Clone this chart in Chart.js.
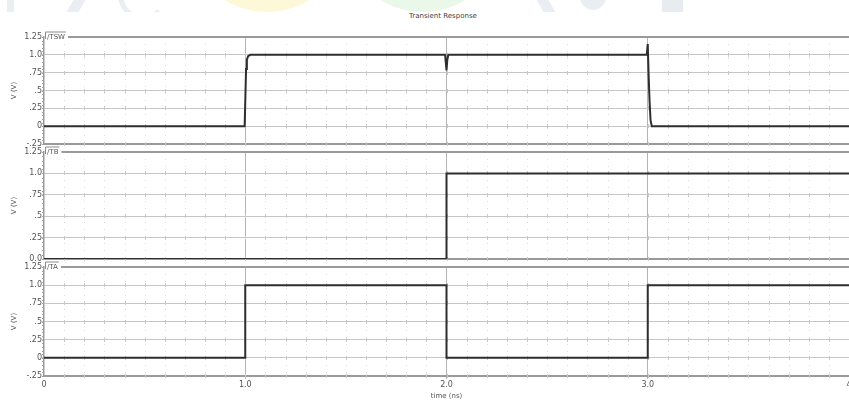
<!DOCTYPE html>
<html>
<head>
<meta charset="utf-8">
<script src="https://cdn.jsdelivr.net/npm/chart.js@4.4.1/dist/chart.umd.min.js"></script>
<style>
  html, body { margin: 0; padding: 0; background: #fff; width: 849px; height: 401px; overflow: hidden; position: relative; }
  canvas { position: absolute; left: 0; }
  #title { position: absolute; top: 12px; left: 0; width: 886px; text-align: center; font: 7px "DejaVu Sans", sans-serif; color: #444; }
  #mark { position: absolute; top: 0; left: 0; width: 849px; height: 12px; overflow: hidden; opacity: 0.8; }
  #mark div { position: absolute; }
</style>
</head>
<body>
<div id="mark">
  <div style="left:7px;top:0;width:7px;height:12px;background:#e8ecf0"></div>
  <div style="left:70px;top:-4px;width:12px;height:20px;background:#e6eaef;transform:skewX(-30deg)"></div>
  <div style="left:118px;top:-30px;width:40px;height:40px;border-radius:50%;border:5px solid #e6eaef;border-top-color:transparent;border-right-color:transparent"></div>
  <div style="left:186px;top:-150px;width:162px;height:162px;border-radius:50%;background:#fdf7cf"></div>
  <div style="left:343px;top:-148px;width:160px;height:160px;border-radius:50%;background:#e6f7e6"></div>
  <div style="left:540px;top:-4px;width:12px;height:20px;background:#e6eaef;transform:skewX(30deg)"></div>
  <div style="left:578px;top:-30px;width:30px;height:40px;border-radius:50%;background:#e6eaef"></div>
  <div style="left:662px;top:0;width:21px;height:12px;background:#e3e8ee"></div>
</div>
<div id="title">Transient Response</div>
<canvas id="pTSW" width="849" height="150" style="top:0px"></canvas>
<canvas id="pTB" width="849" height="118" style="top:146px"></canvas>
<canvas id="pTA" width="849" height="140" style="top:261px"></canvas>
<script>
// Node voltages from the transient run (time in ns, voltage in V)
const tswTime = [0, 0.997, 1.001, 1.004, 1.008, 1.014, 1.025, 1.993, 2.0, 2.004, 2.009, 2.995, 3.0, 3.004, 3.009, 3.014, 3.02, 4.0];
const tswVolt = [0, 0, 0.45, 0.8, 0.93, 0.98, 1.0, 1.0, 0.78, 0.93, 1.0, 1.0, 1.15, 0.75, 0.35, 0.08, 0.0, 0.0];

const tbTime = [0, 2.0, 2.0, 4.0];
const tbVolt = [0, 0, 1.0, 1.0];

const taTime = [0, 1.0, 1.0, 2.0, 2.0, 3.0, 3.0, 4.0];
const taVolt = [0, 0, 1.0, 1.0, 0, 0, 1.0, 1.0];

// Axis ticks and their printed labels
const timeTicks = [0, 1, 2, 3, 4];
const timeTickText = ['0', '1.0', '2.0', '3.0', '4'];
const voltTicksA = [-0.25, 0, 0.25, 0.5, 0.75, 1.0, 1.25];
const voltTextA = ['-.25', '0', '.25', '.5', '.75', '1.0', '1.25'];
const voltTicksB = [0, 0.25, 0.5, 0.75, 1.0, 1.25];
const voltTextB = ['0.0', '.25', '.5', '.75', '1.0', '1.25'];

const tickFont = { family: 'DejaVu Sans', size: 8 };
const gridGray = '#c6c6c6';
const axisGray = '#9a9a9a';

// Dotted minor grid, minor ticks, and the trace name tab on the top border
const panelDecor = {
  id: 'panelDecor',
  beforeDatasetsDraw(chart, args, opts) {
    const { ctx, chartArea: a, scales: { x, y } } = chart;
    ctx.save();
    ctx.lineWidth = 1;
    ctx.strokeStyle = '#dedede';
    ctx.setLineDash([1, 6]);
    for (let i = 1; i < 40; i++) {
      if (i % 10 === 0) continue;
      const px = Math.round(x.getPixelForValue(i / 10)) + 0.5;
      ctx.beginPath(); ctx.moveTo(px, a.top); ctx.lineTo(px, a.bottom); ctx.stroke();
    }
    ctx.setLineDash([]);
    // small marks along each horizontal grid line
    ctx.strokeStyle = '#c8c8c8';
    y.ticks.forEach(t => {
      if (t.value === y.max) return;
      const py = Math.round(y.getPixelForValue(t.value));
      for (let i = 1; i < 40; i++) {
        const px = Math.round(x.getPixelForValue(i / 10)) + 0.5;
        ctx.beginPath(); ctx.moveTo(px, py - 2); ctx.lineTo(px, py + 2); ctx.stroke();
      }
    });
    // minor ticks on the voltage axis
    ctx.strokeStyle = '#a0a0a0';
    const steps = Math.round((y.max - y.min) / 0.05);
    for (let k = 0; k <= steps; k++) {
      const py = Math.round(y.getPixelForValue(y.min + k * 0.05)) + 0.5;
      ctx.beginPath(); ctx.moveTo(a.left - 2, py); ctx.lineTo(a.left, py); ctx.stroke();
    }
    ctx.restore();
  },
  afterDraw(chart, args, opts) {
    const { ctx, chartArea: a } = chart;
    ctx.save();
    ctx.font = '7px "DejaVu Sans"';
    ctx.fillStyle = '#555';
    ctx.textBaseline = 'alphabetic';
    ctx.fillText(opts.name, a.left + 3, a.top + 2);
    const w = ctx.measureText(opts.name).width;
    ctx.strokeStyle = '#8c8c8c';
    ctx.lineWidth = 1;
    ctx.beginPath(); ctx.moveTo(a.left + 1.5, a.top + 2); ctx.lineTo(a.left + 1.5, a.top - 5); ctx.lineTo(a.left + w + 4, a.top - 5); ctx.stroke();
    ctx.lineWidth = 2;
    ctx.strokeStyle = axisGray;
    ctx.beginPath(); ctx.moveTo(a.left + w + 6, a.top); ctx.lineTo(a.right, a.top); ctx.stroke();
    ctx.restore();
  }
};

function makePanel(id, name, times, volts, vTicks, vText, pad, xHeight, showTime) {
  const pts = times.map((t, i) => ({ x: t, y: volts[i] }));
  return new Chart(document.getElementById(id), {
    type: 'line',
    data: { datasets: [{ data: pts, borderColor: '#2e2e2e', borderWidth: 2, pointRadius: 0, tension: 0, fill: false }] },
    plugins: [panelDecor],
    options: {
      responsive: false,
      animation: false,
      events: [],
      layout: { padding: { top: pad[0], bottom: pad[1], left: 0, right: 0 } },
      plugins: { legend: { display: false }, tooltip: { enabled: false }, panelDecor: { name } },
      scales: {
        x: {
          type: 'linear', min: 0, max: 4,
          afterBuildTicks: s => { s.ticks = timeTicks.map(v => ({ value: v })); },
          afterFit: s => { s.height = xHeight; s.paddingLeft = 0; s.paddingRight = 0; },
          grid: {
            color: c => (c.tick && (c.tick.value === 0 || c.tick.value === 4)) ? 'rgba(0,0,0,0)' : '#b4b4b4',
            lineWidth: 1, drawTicks: showTime, tickLength: 3
          },
          border: { display: true, color: axisGray, width: 2 },
          ticks: {
            display: showTime, font: tickFont, color: '#555', padding: 1, maxRotation: 0, autoSkip: false,
            callback: v => timeTickText[timeTicks.indexOf(v)]
          },
          title: { display: showTime, text: 'time (ns)', font: { family: 'DejaVu Sans', size: 7 }, color: '#555', padding: { top: 0, bottom: 1 } }
        },
        y: {
          type: 'linear', min: vTicks[0], max: vTicks[vTicks.length - 1],
          afterBuildTicks: s => { s.ticks = vTicks.map(v => ({ value: v })); },
          afterFit: s => { s.width = 44; s.paddingTop = 0; s.paddingBottom = 0; },
          grid: {
            color: c => (c.tick && c.tick.value === vTicks[vTicks.length - 1]) ? 'rgba(0,0,0,0)' : gridGray,
            lineWidth: 1, drawTicks: true, tickLength: 2
          },
          border: { display: true, color: axisGray, width: 1.5 },
          ticks: {
            font: tickFont, color: '#555', padding: 0, autoSkip: false,
            callback: v => vText[vTicks.indexOf(v)]
          },
          title: { display: true, text: 'V (V)', font: { family: 'DejaVu Sans', size: 7 }, color: '#555', padding: { top: 10, bottom: 0 } }
        }
      }
    }
  });
}

makePanel('pTSW', '/TSW', tswTime, tswVolt, voltTicksA, voltTextA, [37, 6], 0, false);
makePanel('pTB', '/TB', tbTime, tbVolt, voltTicksB, voltTextB, [6, 5], 0, false);
makePanel('pTA', '/TA', taTime, taVolt, voltTicksA, voltTextA, [6, 0], 25, true);
</script>
</body>
</html>
